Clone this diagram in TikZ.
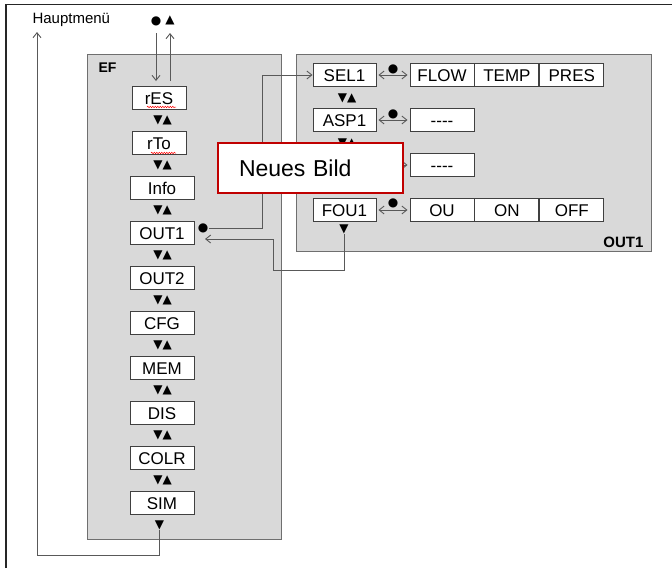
\documentclass[tikz,border=0pt]{standalone}
\usepackage{fontspec}
\setmainfont{Liberation Sans}
\newfontfamily\symfont{DejaVu Sans}
\usetikzlibrary{arrows.meta,calc,decorations.pathmorphing}
\definecolor{panelgrau}{HTML}{D9D9D9}
\definecolor{randgrau}{HTML}{6F6F6F}
\definecolor{liniengrau}{HTML}{595959}
\definecolor{bildrot}{HTML}{C00000}
\tikzset{
  menubox/.style={draw=black!75, fill=white, line width=0.9pt, minimum height=23pt,
    inner sep=0pt, text height=12pt, text depth=0pt, font=\fontsize{17}{17}\selectfont},
  panel/.style={draw=randgrau, fill=panelgrau, line width=1pt},
  conn/.style={draw=liniengrau, line width=0.9pt},
  tip/.style={-{Straight Barb[length=5pt,width=8pt]}},
  twotips/.style={{Straight Barb[length=5pt,width=8pt]}-{Straight Barb[length=5pt,width=8pt]},
    shorten <=2pt, shorten >=2pt},
  navsym/.style={inner sep=0pt, font=\symfont\fontsize{12}{12}\selectfont},
  bigdot/.style={inner sep=0.5pt, font=\symfont\fontsize{12}{12}\selectfont},
  spell/.style={draw=red, line width=0.5pt, decorate,
    decoration={snake, amplitude=0.7pt, segment length=2.5pt}}
}
\begin{document}
\begin{tikzpicture}[x=1pt, y=-1pt]
    \useasboundingbox (0,0) rectangle (672,568);
    % Rahmen
    \draw[line width=1.6pt, black!85] (6,568) -- (6,4.5) -- (672,4.5);

    % Hauptmenü
    \node[anchor=west, font=\fontsize{15}{15}\selectfont] (haupt) at (29,20) {Hauptmenü};
    \node[bigdot] (dotTop) at (156,21) {●};
    \node[navsym] (upTop) at (170,20) {▲};

    % Felder
    \draw[panel] (87,54) rectangle (281,539);
    \node[anchor=west, font=\bfseries\fontsize{14}{14}\selectfont] (efLabel) at (95,68) {EF};
    \draw[panel] (296,54) rectangle (651,251);
    \node[anchor=east, font=\bfseries\fontsize{15}{15}\selectfont] (outLabel) at (647,242) {OUT1};

    % Menü EF
    \node[menubox, minimum width=54pt] (res) at (159,98) {rES};
    \node[menubox, minimum width=54pt] (rto) at (159,143) {rTo};
    \foreach \name/\txt [count=\i from 2] in {info/Info, out1/OUT1, out2/OUT2, cfg/CFG,
        mem/MEM, dis/DIS, colr/COLR, sim/SIM}
        \node[menubox, minimum width=64pt] (\name) at (162,98+45*\i) {\txt};
    \foreach \i in {0,...,8}
        \node[navsym] (nav\i) at (162.5,120.5+45*\i) {▼▲};
    \node[navsym] (simDown) at (159.5,525) {▼};
    % Rechtschreibung
    \draw[spell] (147,107) -- (176,107);
    \draw[spell] (151,153) -- (176,153);

    % Menü OUT1
    \node[menubox, minimum width=63pt] (sel) at (344.5,75) {SEL1};
    \node[menubox, minimum width=63pt] (asp) at (344.5,120) {ASP1};
    \node[menubox, minimum width=63pt] (fou) at (344.5,210) {FOU1};
    \node[navsym] (navR0) at (347,98) {▼▲};
    \node[navsym] (navR1) at (347,143) {▼▲};
    \node[navsym] (navR2) at (347,188) {▼▲};
    \node[navsym] (fouDown) at (344,229) {▼};

    \node[menubox, minimum width=64pt] (flow) at (442,75) {FLOW};
    \node[menubox, minimum width=64pt, anchor=west] (temp) at (flow.east) {TEMP};
    \node[menubox, minimum width=64pt, anchor=west] (pres) at (temp.east) {PRES};
    \node[menubox, minimum width=64pt] (valA) at (442,120) {-\kern0pt-\kern0pt-\kern0pt-};
    \node[menubox, minimum width=64pt] (valB) at (442,165) {-\kern0pt-\kern0pt-\kern0pt-};
    \node[menubox, minimum width=64pt] (ou) at (442,210) {OU};
    \node[menubox, minimum width=64pt, anchor=west] (on) at (ou.east) {ON};
    \node[menubox, minimum width=64pt, anchor=west] (off) at (on.east) {OFF};

    % Auswahl
    \draw[conn, twotips] (sel.east) -- (flow.west);
    \draw[conn, twotips] (asp.east) -- (valA.west);
    \coordinate (hidden) at (377,165);
    \draw[conn, twotips] (hidden) -- (valB.west);
    \draw[conn, twotips] (fou.east) -- (ou.west);
    \node[bigdot, yshift=6pt] (dotSel) at ($(sel.east)!.5!(flow.west)$) {●};
    \node[bigdot, yshift=6pt] (dotAsp) at ($(asp.east)!.5!(valA.west)$) {●};
    \node[bigdot, yshift=7pt] (dotFou) at ($(fou.east)!.5!(ou.west)$) {●};

    % Verbindungen
    \node[bigdot] (dotOut) at (203,228) {●};
    \coordinate (jOut) at (262,228);
    \draw[conn, tip] (dotOut.east) -- (jOut) |- (sel.west);
    \coordinate (jFouA) at (344,270);
    \coordinate (jFouB) at (273,239);
    \coordinate (backIn) at (205,239);
    \draw[conn, tip] (fouDown.south) -- (jFouA) -| (jFouB) -- (backIn);

    \coordinate (topL) at (156,33);
    \coordinate (topR) at (170,33);
    \coordinate (resL) at (156,81);
    \coordinate (resR) at (170,81);
    \draw[conn, tip] (topL) -- (resL);
    \draw[conn, tip] (resR) -- (topR);

    \coordinate (hmIn) at (37,32);
    \coordinate (loopA) at (159.5,555);
    \coordinate (loopB) at (37,555);
    \draw[conn, tip] (simDown.south) -- (loopA) -- (loopB) -- (hmIn);

    % Neues Bild
    \node[draw=bildrot, line width=2pt, fill=white, anchor=north west, minimum width=185pt,
        minimum height=50pt, text width=143pt, inner xsep=21pt, inner ysep=0pt, align=left,
        font=\fontsize{23}{23}\selectfont] (neu) at (217,142) {Neues Bild};
\end{tikzpicture}
\end{document}
